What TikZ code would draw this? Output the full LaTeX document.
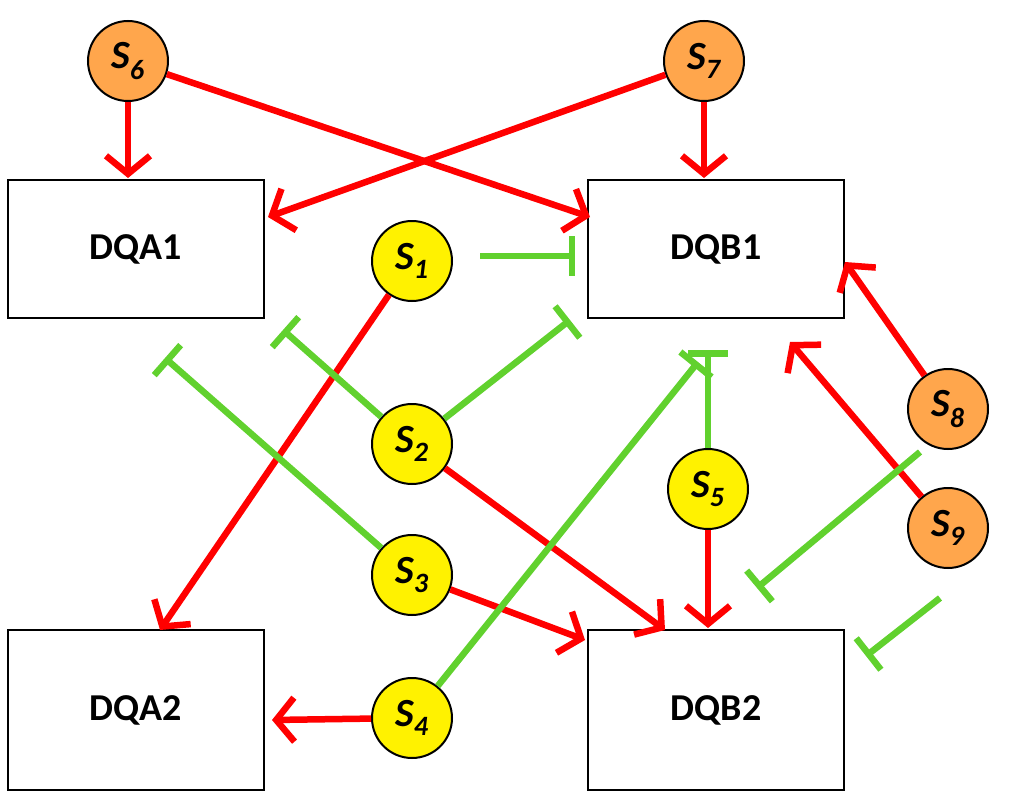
\documentclass[tikz,border=0pt]{standalone}
\usepackage{fontspec}
\setmainfont{Carlito}
\usetikzlibrary{arrows.meta}
\begin{document}
\begin{tikzpicture}[x=1pt,y=-1pt,
 box/.style={draw,line width=2pt,minimum width=256pt,minimum height=138pt,font=\fontsize{38}{40}\selectfont\bfseries},
 yc/.style={circle,draw,line width=2pt,fill=yellow,minimum size=80pt,inner sep=0pt,font=\fontsize{40}{42}\selectfont\bfseries\itshape},
 oc/.style={yc,fill=orange!70!white},
 act/.style={draw=red,line width=6.5pt,-{Straight Barb[length=18pt,width=44pt,line width=6.5pt]}},
 inh/.style={draw=green!55!gray!80!yellow,line width=6.5pt,-{Bar[width=40pt,line width=6.5pt]}}]
\useasboundingbox (0,0) rectangle (1015,800);
\node[box] (A1) at (136,249) {DQA1};
\node[box] (B1) at (716,249) {DQB1};
\node[box,minimum height=160pt] (A2) at (136,710) {DQA2};
\node[box,minimum height=160pt] (B2) at (716,710) {DQB2};
\node[oc] (S6) at (128,61) {S\textsubscript{6}};
\node[oc] (S7) at (704,61) {S\textsubscript{7}};
\node[yc] (S1) at (412,261) {S\textsubscript{1}};
\node[yc] (S2) at (412,444) {S\textsubscript{2}};
\node[yc] (S3) at (412,575) {S\textsubscript{3}};
\node[yc] (S4) at (412,718) {S\textsubscript{4}};
\node[yc] (S5) at (708,489) {S\textsubscript{5}};
\node[oc] (S8) at (948,409) {S\textsubscript{8}};
\node[oc] (S9) at (948,528) {S\textsubscript{9}};
\coordinate (t1) at (575,256);
\coordinate (t2) at (283,330);
\coordinate (t3) at (570,320);
\coordinate (t4) at (165,358);
\coordinate (t5) at (698,362);
\coordinate (t6) at (708,350);
\coordinate (t7) at (757,588);
\coordinate (t8) at (866,656);
\coordinate (f1) at (480,256);
\coordinate (f8) at (920,452);
\coordinate (f9) at (940,598);
\coordinate (a1) at (128,178);
\coordinate (b1) at (704,178);
\coordinate (b2) at (708,628);
\coordinate (a2) at (272,720);
% activations
\draw[act] (S6) -- (a1);
\draw[act] (S6) -- (590,217);
\draw[act] (S7) -- (268,217);
\draw[act] (S7) -- (b1);
\draw[act] (S1) -- (160,630);
\draw[act] (S2) -- (665,630);
\draw[act] (S3) -- (585,640);
\draw[act] (S4) -- (a2);
\draw[act] (S5) -- (b2);
\draw[act] (S8) -- (845,262);
\draw[act] (S9) -- (790,342);
% inhibitions
\draw[inh] (f1) -- (t1);
\draw[inh] (S2) -- (t2);
\draw[inh] (S2) -- (t3);
\draw[inh] (S3) -- (t4);
\draw[inh] (S4) -- (t5);
\draw[inh] (S5) -- (t6);
\draw[inh] (f8) -- (t7);
\draw[inh] (f9) -- (t8);
\end{tikzpicture}
\end{document}
